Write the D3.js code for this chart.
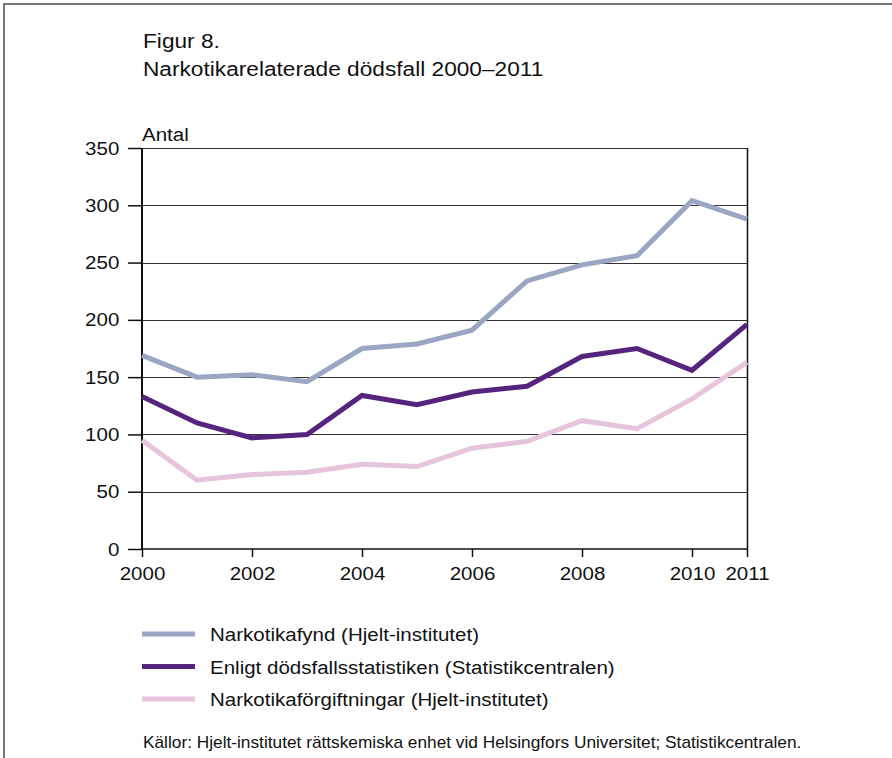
<!DOCTYPE html>
<html><head><meta charset="utf-8">
<script src="https://cdn.jsdelivr.net/npm/d3@7"></script>
<style>body{margin:0;background:#fff}svg{display:block;font-family:"Liberation Sans",Arial,Helvetica,sans-serif}</style>
</head><body><svg id="c" width="892" height="758"></svg>
<script>
const years = [2000,2001,2002,2003,2004,2005,2006,2007,2008,2009,2010,2011];
const narkotikafynd = [169,150,152,146,175,179,191,234,248,256,304,288];
const dodsfallsstatistik = [133,110,97,100,134,126,137,142,168,175,156,196];
const forgiftningar = [95,60,65,67,74,72,88,94,112,105,131,163];
const yTicks = [0,50,100,150,200,250,300,350];
const xTicks = [2000,2002,2004,2006,2008,2010,2011];
const seriesNames = ["Narkotikafynd (Hjelt-institutet)","Enligt dödsfallsstatistiken (Statistikcentralen)","Narkotikaförgiftningar (Hjelt-institutet)"];
const seriesColors = ["#9ba6c3","#55247f","#e6c4dc"];
const seriesData = [narkotikafynd, dodsfallsstatistik, forgiftningar];

const SX = 1.08; // horizontal stretch of the original typeface
const svg = d3.select("#c");
function label(x, y, size, txt){
  return svg.append("text").attr("transform",`translate(${x},${y}) scale(${SX},1)`)
    .attr("font-size",size).attr("fill","#111").text(txt);
}
// frame
svg.append("path").attr("d","M4,758 V4 H892").attr("fill","none").attr("stroke","#777").attr("stroke-width",2);

label(143,48,21,"Figur 8.");
label(143,76,21,"Narkotikarelaterade dödsfall 2000–2011");
label(142,141,19,"Antal");

const x = d3.scaleLinear().domain([2000,2011]).range([142,747]);
const y = d3.scaleLinear().domain([0,350]).range([549,148]);

// gridlines
svg.append("g").selectAll("line").data(yTicks.filter(d=>d>0)).join("line")
  .attr("x1",142).attr("x2",747).attr("y1",d=>Math.round(y(d))+0.5).attr("y2",d=>Math.round(y(d))+0.5)
  .attr("stroke","#333").attr("stroke-width",1);
// right border
svg.append("line").attr("x1",747.5).attr("x2",747.5).attr("y1",148).attr("y2",549).attr("stroke","#111").attr("stroke-width",1.5);

const yAxis = d3.axisLeft(y).tickValues(yTicks).tickSize(14).tickPadding(7);
const gy = svg.append("g").attr("transform","translate(142,0)").call(yAxis);
gy.select(".domain").remove();
gy.selectAll(".tick line").attr("stroke","#111").attr("stroke-width",1.5);
gy.selectAll(".tick text").attr("font-size",19).attr("fill","#111").attr("font-family","Liberation Sans, Arial, sans-serif")
  .attr("transform",`scale(${SX},1)`);

const xAxis = d3.axisBottom(x).tickValues(xTicks).tickFormat(d3.format("d")).tickSize(8).tickPadding(10);
const gx = svg.append("g").attr("transform","translate(0,549)").call(xAxis);
gx.select(".domain").remove();
gx.selectAll(".tick line").attr("stroke","#111").attr("stroke-width",1.5);
gx.selectAll(".tick text").attr("font-size",19).attr("fill","#111").attr("font-family","Liberation Sans, Arial, sans-serif")
  .attr("transform",`scale(${SX},1)`);
// axis lines
svg.append("line").attr("x1",142).attr("x2",142).attr("y1",148).attr("y2",549).attr("stroke","#111").attr("stroke-width",2);
svg.append("line").attr("x1",142).attr("x2",748).attr("y1",549).attr("y2",549).attr("stroke","#111").attr("stroke-width",1.5);

const line = d3.line().x((d,i)=>x(years[i])).y(d=>y(d));
seriesData.forEach((s,k)=>{
  svg.append("path").datum(s).attr("d",line).attr("fill","none")
    .attr("stroke",seriesColors[k]).attr("stroke-width",5).attr("stroke-linejoin","miter");
});

// legend
seriesNames.forEach((n,k)=>{
  const yy = 634 + k*32.5;
  svg.append("line").attr("x1",142).attr("x2",195).attr("y1",yy).attr("y2",yy).attr("stroke",seriesColors[k]).attr("stroke-width",5);
  label(210, yy+7, 19, n);
});

label(143,748,16,"Källor: Hjelt-institutet rättskemiska enhet vid Helsingfors Universitet; Statistikcentralen.");
</script></body></html>
